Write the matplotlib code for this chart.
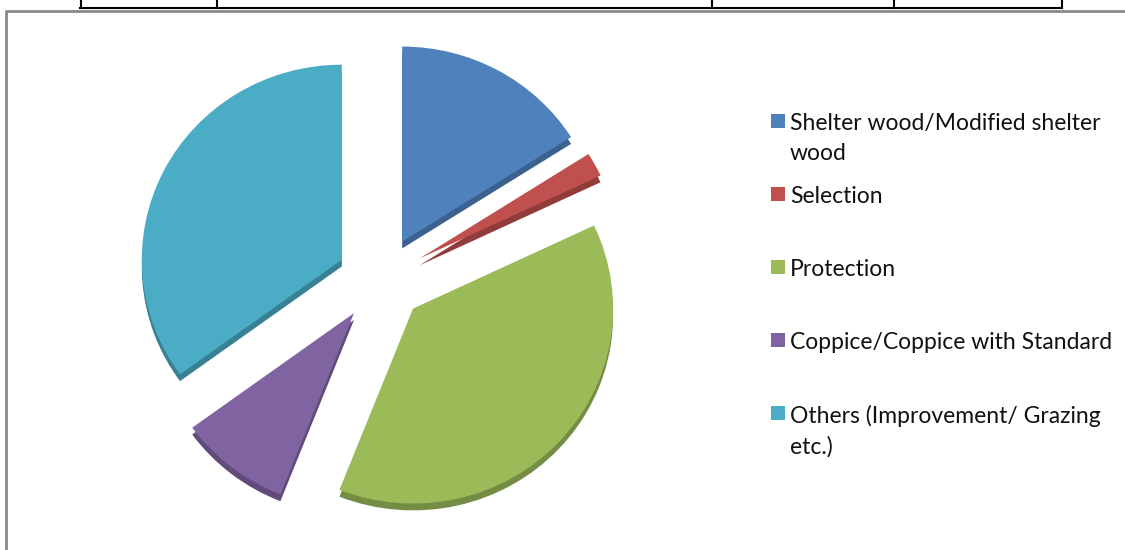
import matplotlib.pyplot as plt
import matplotlib.colors as mcolors
from matplotlib.lines import Line2D
from matplotlib.patches import Rectangle

# Silvicultural systems - share of area (%)
labels = ['Shelter wood/Modified shelter\nwood', 'Selection', 'Protection',
          'Coppice/Coppice with Standard', 'Others (Improvement/ Grazing\netc.)']
values = [16, 2, 38, 9, 35]
colors = ['#4F81BD', '#C0504D', '#9BBB59', '#8064A2', '#4BACC6']

plt.rcParams['font.family'] = ['Lato', 'DejaVu Sans']

fig = plt.figure(figsize=(11.25, 5.5), dpi=100)

# pie area
ax = fig.add_axes([131 / 1125, 14 / 550, 500 / 1125, 500 / 550])
explode = [0.22] * len(values)
dark = [tuple(c * 0.75 for c in mcolors.to_rgb(col)) for col in colors]

# darker copy underneath to fake the 3D depth
ax.pie(values, colors=dark, explode=explode, startangle=90, counterclock=False,
       center=(0.0, -0.035), wedgeprops=dict(linewidth=0))
ax.pie(values, colors=colors, explode=explode, startangle=90, counterclock=False,
       wedgeprops=dict(linewidth=0))
ax.set_aspect('auto')
ax.set_xlim(-1.25, 1.25)
ax.set_ylim(-1.317, 1.247)

# legend drawn by hand so the marker sits on the first text line
y_first = 1 - 121 / 550
step = 73 / 550
for i, (lab, col) in enumerate(zip(labels, colors)):
    y = y_first - i * step
    fig.add_artist(Rectangle((771 / 1125, y - 7 / 550), 14 / 1125, 14 / 550,
                             transform=fig.transFigure, facecolor=col,
                             edgecolor='none'))
    fig.text(790 / 1125, y + 8 / 550, lab, fontsize=16.5, va='top', ha='left',
             linespacing=1.5, color='#111111')

# chart frame (grey) and bits of the table above
fig.add_artist(Line2D([6 / 1125, 6 / 1125, 1.0], [0.0, 1 - 11 / 550, 1 - 11 / 550],
                      transform=fig.transFigure, color='#8a8a8a', lw=2))
fig.add_artist(Line2D([80 / 1125, 1062 / 1125], [1 - 8 / 550, 1 - 8 / 550],
                      transform=fig.transFigure, color='black', lw=1.5))
for xv in [81, 217, 712, 894, 1062]:
    fig.add_artist(Line2D([xv / 1125, xv / 1125], [1 - 8 / 550, 1.0],
                          transform=fig.transFigure, color='black', lw=1.5))

fig.savefig('out.png', dpi=100)
